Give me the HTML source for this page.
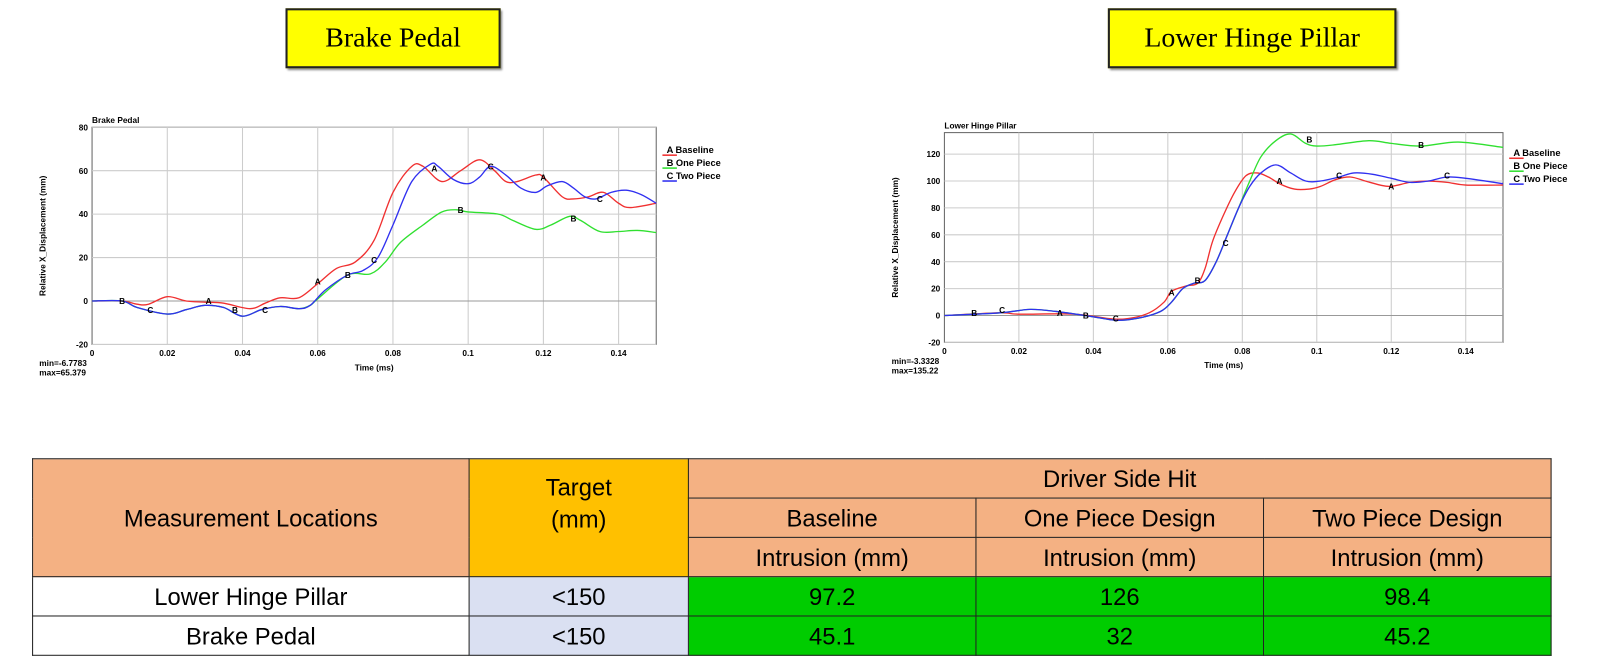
<!DOCTYPE html>
<html><head><meta charset="utf-8"><style>
body{margin:0;background:#fff;width:1622px;height:671px;overflow:hidden;position:relative;font-family:"Liberation Sans",sans-serif}
#w{position:absolute;left:0;top:0;width:1568px;height:649px;transform:scale(1.0344);transform-origin:0 0}
.tb{position:absolute;background:#ffff00;border:2px solid #222;box-shadow:2px 2px 2px #888;font-family:"Liberation Serif",serif;font-size:27px;text-align:center;line-height:52px}
table{position:absolute;left:31px;top:443px;border-collapse:collapse;font-size:23px;table-layout:fixed}
td{border:1.5px solid #222;text-align:center;padding:0;height:37px;line-height:24px}
.s{background:#f4b183}.o{background:#ffc000}.l{background:#dae0f2}.g{background:#00cc00}
</style></head><body><div id="w">
<div class="tb" style="left:276px;top:8px;width:204px;height:54px">Brake Pedal</div>
<div class="tb" style="left:1071px;top:8px;width:275px;height:54px">Lower Hinge Pillar</div>
<svg id="sv" width="1568" height="649" style="position:absolute;left:0;top:0" font-family="Liberation Sans, sans-serif"></svg>
<table>
<colgroup><col style="width:422px"><col style="width:212px"><col style="width:278px"><col style="width:278px"><col style="width:278px"></colgroup>
<tr><td class="s" rowspan="3">Measurement Locations</td><td class="o" rowspan="3" style="vertical-align:top;padding-top:12px;line-height:31px">Target<br>(mm)</td><td class="s" colspan="3">Driver Side Hit</td></tr>
<tr><td class="s">Baseline</td><td class="s">One Piece Design</td><td class="s">Two Piece Design</td></tr>
<tr><td class="s">Intrusion (mm)</td><td class="s">Intrusion (mm)</td><td class="s">Intrusion (mm)</td></tr>
<tr><td>Lower Hinge Pillar</td><td class="l">&lt;150</td><td class="g">97.2</td><td class="g">126</td><td class="g">98.4</td></tr>
<tr><td>Brake Pedal</td><td class="l">&lt;150</td><td class="g">45.1</td><td class="g">32</td><td class="g">45.2</td></tr>
</table>
</div>
<script>
var sv=document.getElementById('sv'),h='';
function sm(p){var d='M'+p[0][0].toFixed(1)+','+p[0][1].toFixed(1);for(var i=0;i<p.length-1;i++){var a=p[i-1]||p[i],b=p[i],c=p[i+1],e=p[i+2]||c;d+='C'+(b[0]+(c[0]-a[0])/6).toFixed(1)+','+(b[1]+(c[1]-a[1])/6).toFixed(1)+' '+(c[0]-(e[0]-b[0])/6).toFixed(1)+','+(c[1]-(e[1]-b[1])/6).toFixed(1)+' '+c[0].toFixed(1)+','+c[1].toFixed(1);}return d;}
function chart(o){
 var X=function(t){return o.x0+t*o.sx},Y=function(v){return o.y0-v*o.sy};
 var L=X(0),R=X(0.15),T=Y(o.top),B=Y(o.bot);
 h+='<rect x="'+L+'" y="'+T+'" width="'+(R-L)+'" height="'+(B-T)+'" fill="#fff" stroke="#666"/>';
 for(var t=0.02;t<0.15;t+=0.02)h+='<line x1="'+X(t)+'" x2="'+X(t)+'" y1="'+T+'" y2="'+B+'" stroke="#ccc"/>';
 o.yt.forEach(function(v){h+='<line x1="'+L+'" x2="'+R+'" y1="'+Y(v)+'" y2="'+Y(v)+'" stroke="'+(v==0?'#999':'#ccc')+'"/><text x="'+(L-4)+'" y="'+(Y(v)+3)+'" font-size="8" font-weight="bold" text-anchor="end">'+v+'</text>';});
 ['0','0.02','0.04','0.06','0.08','0.1','0.12','0.14'].forEach(function(s){h+='<text x="'+X(+s)+'" y="'+(B+11)+'" font-size="8" font-weight="bold" text-anchor="middle">'+s+'</text>';});
 h+='<text x="'+L+'" y="'+(T-4)+'" font-size="8" font-weight="bold">'+o.title+'</text>';
 h+='<text x="'+(L+(R-L)/2)+'" y="'+(B+25)+'" font-size="8" font-weight="bold" text-anchor="middle">Time (ms)</text>';
 h+='<text transform="translate('+(L-45)+','+((T+B)/2)+') rotate(-90)" font-size="8" font-weight="bold" text-anchor="middle">Relative X_Displacement (mm)</text>';
 h+='<text x="'+(L-51)+'" y="'+(B+21)+'" font-size="8" font-weight="bold">'+o.mn+'</text><text x="'+(L-51)+'" y="'+(B+30)+'" font-size="8" font-weight="bold">'+o.mx+'</text>';
 var cols=['#f03030','#30e030','#3030f0'],names=['Baseline','One Piece','Two Piece'],let=['A','B','C'];
 o.s.forEach(function(s,i){h+='<path d="'+sm(s.map(function(q){return[X(q[0]),Y(q[1])]}))+'" fill="none" stroke="'+cols[i]+'" stroke-width="1.3"/>';});
 o.lab.forEach(function(q){h+='<text x="'+X(q[1])+'" y="'+(Y(q[2])+3)+'" font-size="8" font-weight="bold" text-anchor="middle">'+q[0]+'</text>';});
 for(var i=0;i<3;i++){var yy=o.ly+i*12.5;h+='<text x="'+(R+10)+'" y="'+yy+'" font-size="9" font-weight="bold">'+let[i]+'  '+names[i]+'</text><line x1="'+(R+6)+'" x2="'+(R+20)+'" y1="'+(yy+2)+'" y2="'+(yy+2)+'" stroke="'+cols[i]+'" stroke-width="1.5"/>';}
}
var b0=[[0,0],[0.008,0],[0.012,-3],[0.02,-6],[0.025,-4],[0.03,-2],[0.035,-3],[0.04,-7],[0.045,-4],[0.05,-2.5],[0.055,-3.5],[0.058,-2]];
chart({x0:89,sx:3636,y0:291,sy:2.1,top:80,bot:-20,yt:[80,60,40,20,0,-20],title:'Brake Pedal',mn:'min=-6.7783',mx:'max=65.379',ly:148,
s:[[[0,0],[0.008,0],[0.012,-1.5],[0.015,-1.5],[0.02,2],[0.025,0],[0.03,-0.5],[0.035,-1],[0.042,-3.5],[0.046,-1],[0.05,1.5],[0.055,1.5],[0.06,8],[0.065,15],[0.07,18],[0.075,28],[0.08,50],[0.085,62],[0.088,62],[0.093,55],[0.098,60],[0.103,65],[0.107,60],[0.11,55],[0.113,55],[0.118,58],[0.12,57],[0.125,48],[0.128,47],[0.132,48],[0.136,50],[0.14,45],[0.143,43],[0.15,45]],
b0.concat([[0.06,1],[0.068,12],[0.074,12.5],[0.078,18],[0.082,27],[0.088,35],[0.093,41],[0.097,42],[0.1,41],[0.108,40],[0.112,37],[0.118,33],[0.122,35],[0.127,39],[0.13,37],[0.135,32],[0.14,32],[0.145,32.5],[0.15,31.5]]),
b0.concat([[0.062,5],[0.068,12],[0.072,14],[0.076,20],[0.08,35],[0.085,55],[0.09,63],[0.092,62],[0.096,56],[0.1,54],[0.103,57],[0.106,62],[0.11,58],[0.114,52],[0.118,50],[0.121,53],[0.125,55],[0.128,52],[0.131,48],[0.134,47],[0.138,50],[0.142,51],[0.146,49],[0.15,45]])],
lab:[['B',0.008,0],['C',0.0155,-4],['A',0.031,0],['B',0.038,-4],['C',0.046,-4],['A',0.06,9],['B',0.068,12],['C',0.075,19],['A',0.091,61],['B',0.098,42],['C',0.106,62],['A',0.12,57],['B',0.128,38],['C',0.135,47]]});
var g0=[[0,0],[0.015,2],[0.023,4.5],[0.03,3],[0.04,-1],[0.046,-3.5],[0.052,-2],[0.058,3],[0.061,10],[0.064,20],[0.067,24],[0.07,26],[0.073,40],[0.076,60],[0.079,80]];
chart({x0:913,sx:3600,y0:305,sy:1.3,top:136,bot:-20,yt:[120,100,80,60,40,20,0,-20],title:'Lower Hinge Pillar',mn:'min=-3.3328',mx:'max=135.22',ly:151,
s:[[[0,0],[0.015,2],[0.02,1],[0.035,1],[0.045,-2.5],[0.05,-2],[0.055,2],[0.059,10],[0.061,18],[0.065,22],[0.068,24],[0.07,35],[0.072,55],[0.075,75],[0.078,92],[0.081,104],[0.084,106],[0.087,103],[0.09,98],[0.094,94],[0.098,94],[0.101,96],[0.105,101],[0.109,103],[0.113,100],[0.117,97],[0.12,96],[0.125,99],[0.13,100],[0.135,99],[0.14,97],[0.15,97]],
g0.concat([[0.082,100],[0.085,118],[0.089,130],[0.093,135],[0.097,128],[0.1,126],[0.105,127],[0.114,130],[0.12,128],[0.128,126],[0.138,129],[0.15,125]]),
g0.concat([[0.082,96],[0.085,106],[0.089,112],[0.093,106],[0.097,100],[0.101,100],[0.106,103],[0.11,106],[0.115,105],[0.12,102],[0.125,99],[0.13,100],[0.135,103],[0.14,102],[0.15,98]])],
lab:[['B',0.008,2],['C',0.0155,4],['A',0.031,2],['B',0.038,0],['C',0.046,-2],['A',0.061,17],['B',0.068,26],['C',0.0755,54],['A',0.09,100],['B',0.098,131],['C',0.106,104],['A',0.12,96],['B',0.128,127],['C',0.135,104]]});
sv.innerHTML=h;
</script>
</body></html>
